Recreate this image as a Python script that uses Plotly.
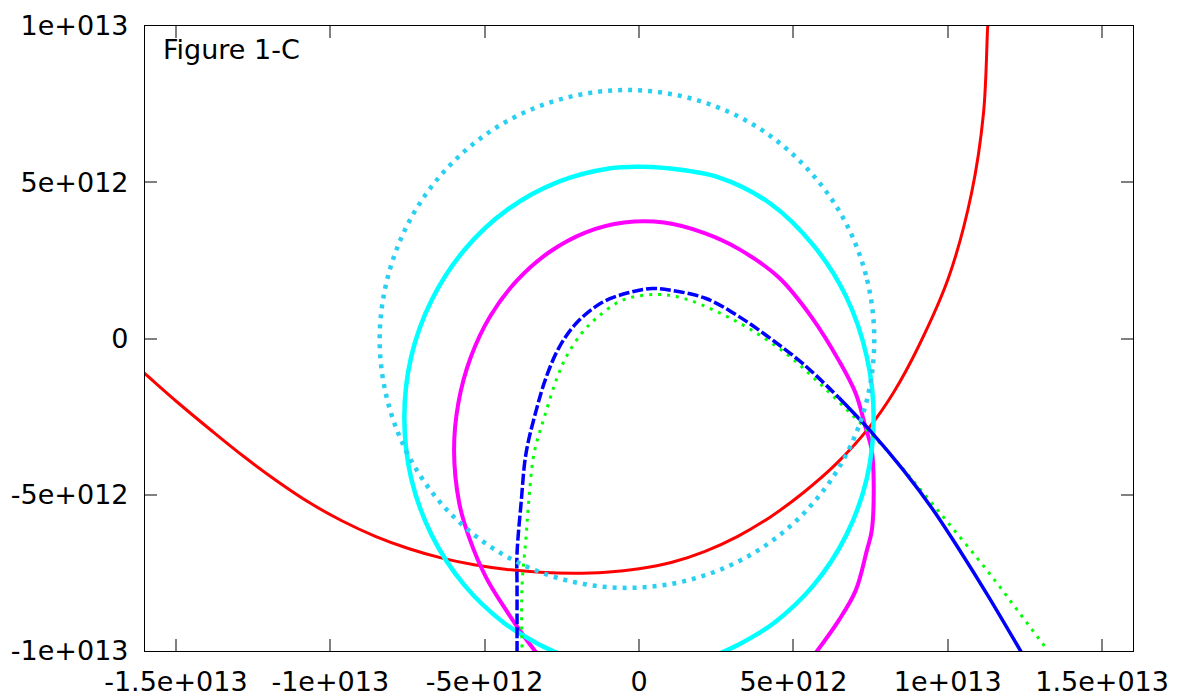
import numpy as np
import plotly.graph_objects as go

SCALE = 1e12  # values below are in units of 1e12

red_x = [-16.20, -16.01, -14.95, -13.88, -12.81, -11.74, -10.68, -9.61, -8.54, -7.47, -6.41, -5.34, -4.27, -3.20,
         -2.14, -1.07, 0.00, 1.07, 2.14, 3.20, 4.27, 5.34, 6.41, 7.47, 8.25, 9.06, 10.03, 10.77, 11.16, 11.29, 11.31]
red_y = [-0.96, -1.12, -2.04, -2.92, -3.77, -4.55, -5.25, -5.84, -6.33, -6.72, -7.02, -7.24, -7.39, -7.48,
         -7.51, -7.48, -7.37, -7.16, -6.81, -6.33, -5.70, -4.92, -3.99, -2.83, -1.72, -0.24, 1.96, 4.65, 7.23,
         9.92, 10.18]

cyan_x = [-2.60, -3.22, -4.36, -5.65, -6.71, -7.38, -7.60, -7.38, -6.71, -5.65, -4.25, -2.60, -0.93, 0.00, 0.80,
          2.60, 4.25, 5.65, 6.71, 7.38, 7.60, 7.38, 6.71, 5.65, 4.36, 3.22, 2.60]
cyan_y = [-10.08, -9.80, -9.11, -7.90, -6.30, -4.47, -2.53, -0.59, 1.24, 2.84, 4.13, 5.02, 5.45, 5.50, 5.46,
          5.15, 4.32, 2.98, 1.34, -0.59, -2.53, -4.47, -6.30, -7.90, -9.11, -9.80, -10.08]

magenta_x = [-3.33, -3.79, -4.30, -4.95, -5.50, -5.82, -5.99, -5.85, -5.45, -4.81, -3.95, -2.91, -1.74, -0.48,
             0.81, 2.10, 3.24, 4.53, 5.60, 6.47, 7.02, 7.34, 7.54, 7.60, 7.54, 7.38, 7.02, 6.47, 5.73]
magenta_y = [-10.05, -9.44, -8.70, -7.65, -6.37, -5.28, -3.58, -2.06, -0.60, 0.73, 1.86, 2.76, 3.39, 3.71,
             3.71, 3.38, 2.86, 1.95, 0.67, -0.70, -1.76, -2.85, -3.58, -4.54, -6.14, -6.78, -8.06, -9.02, -10.05]

blue_dash_x = [-3.95, -3.95, -3.95, -3.82, -3.66, -3.33, -3.01, -2.59, -2.04, -1.20, -0.32, 0.42, 1.07, 2.17,
               3.24, 4.30, 5.34, 6.47]
blue_dash_y = [-10.05, -7.97, -6.88, -5.28, -3.68, -2.30, -1.25, -0.29, 0.48, 1.15, 1.47, 1.60, 1.54, 1.28,
               0.70, -0.03, -0.83, -1.89]
blue_solid_x = [6.47, 7.54, 8.57, 9.54, 10.35, 11.32, 12.39]
blue_solid_y = [-1.89, -3.01, -4.22, -5.50, -6.72, -8.26, -10.05]

green_x = [-3.79, -3.79, -3.66, -3.56, -3.40, -3.07, -2.65, -2.33, -1.84, -1.39, -0.55, 0.55, 1.46, 2.52, 3.56,
           4.76, 5.82, 7.02, 8.09, 9.06, 10.03, 10.94, 11.65, 12.29, 13.17]
green_y = [-9.89, -7.97, -6.37, -5.09, -3.68, -2.53, -1.25, -0.54, 0.19, 0.64, 1.22, 1.41, 1.28, 0.86, 0.32,
           -0.48, -1.41, -2.56, -3.65, -4.77, -5.92, -7.01, -7.90, -8.74, -9.89]

dotted_x = [7.62, 7.35, 6.55, 5.27, 3.62, 1.69, -0.39, -2.46, -4.39, -6.05, -7.32, -8.12, -8.40, -8.12, -7.32,
            -6.05, -4.39, -2.46, -0.39, 1.69, 3.62, 5.27, 6.55, 7.35, 7.62]
dotted_y = [-0.03, 2.03, 3.97, 5.62, 6.89, 7.68, 7.95, 7.68, 6.89, 5.62, 3.97, 2.03, -0.03, -2.09, -4.01,
            -5.66, -6.92, -7.71, -7.98, -7.71, -6.92, -5.66, -4.01, -2.09, -0.03]

x_tickvals = [-1.5e13, -1e13, -5e12, 0, 5e12, 1e13, 1.5e13]
x_ticktext = ["-1.5e+013", "-1e+013", "-5e+012", "0", "5e+012", "1e+013", "1.5e+013"]
y_tickvals = [-1e13, -5e12, 0, 5e12, 1e13]
y_ticktext = ["-1e+013", "-5e+012", "0", "5e+012", "1e+013"]


def s(v):
    return np.array(v) * SCALE


def curve(xs, ys, color, width, dash=None):
    return go.Scatter(x=s(xs), y=s(ys), mode="lines",
                      line=dict(color=color, width=width, dash=dash, shape="spline", smoothing=1.0))


fig = go.Figure()
fig.add_trace(curve(red_x, red_y, "#ff0000", 3))
fig.add_trace(curve(magenta_x, magenta_y, "#ff00ff", 4))
fig.add_trace(curve(cyan_x, cyan_y, "#00ffff", 4.5))
fig.add_trace(curve(green_x, green_y, "#00ff00", 3, "3px,6px"))
fig.add_trace(curve(blue_dash_x, blue_dash_y, "#0000ff", 3.5, "11px,3px"))
fig.add_trace(curve(blue_solid_x, blue_solid_y, "#0000ff", 3.5))
fig.add_trace(curve(dotted_x, dotted_y, "#2ad0f2", 4.5, "4px,6px"))

axis_common = dict(
    showgrid=False, zeroline=False, showline=True, linecolor="#000000", linewidth=1.2,
    mirror="ticks", ticks="inside", ticklen=12, tickcolor="#808080", tickwidth=1.5,
    tickfont=dict(family="DejaVu Sans", size=27, color="#000000"), automargin=False,
)

fig.update_layout(
    width=1194, height=700,
    margin=dict(l=145, r=61, t=26, b=49),
    paper_bgcolor="white", plot_bgcolor="white",
    showlegend=False,
    xaxis=dict(range=[-1.6e13, 1.6e13], tickvals=x_tickvals, ticktext=x_ticktext,
               ticklabelstandoff=6, **axis_common),
    yaxis=dict(range=[-1e13, 1e13], tickvals=y_tickvals, ticktext=y_ticktext,
               ticklabelstandoff=10, **axis_common),
    annotations=[dict(text="Figure 1-C", xref="paper", yref="paper", x=0.016, y=0.9616,
                      xanchor="left", yanchor="middle", showarrow=False,
                      font=dict(family="DejaVu Sans", size=27, color="#000000"))],
)

fig.write_html("out.html")
